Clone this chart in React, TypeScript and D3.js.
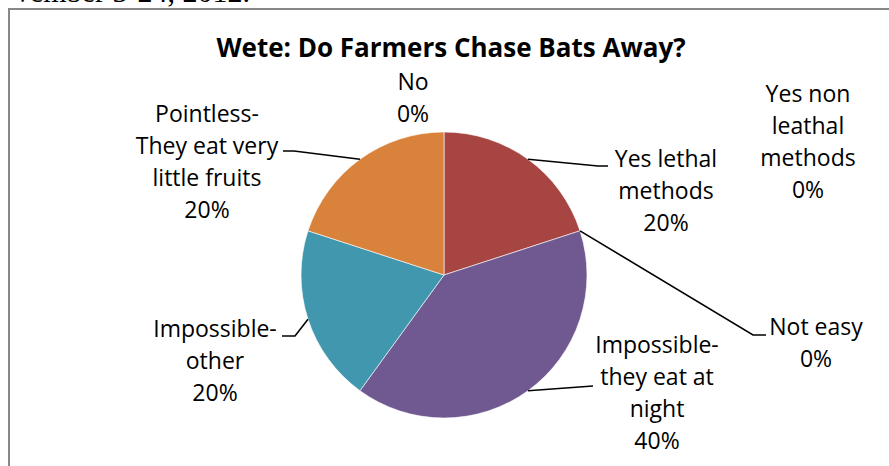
import React from "react";
import * as d3 from "d3";

// ---- data ----
const categories = [
  "Yes lethal methods",
  "Yes non leathal methods",
  "Not easy",
  "Impossible-they eat at night",
  "Impossible-other",
  "Pointless-They eat very little fruits",
  "No",
];
const values = [20, 0, 0, 40, 20, 20, 0];
const labelLines = [
  ["Yes lethal", "methods"],
  ["Yes non", "leathal", "methods"],
  ["Not easy"],
  ["Impossible-", "they eat at", "night"],
  ["Impossible-", "other"],
  ["Pointless-", "They eat very", "little fruits"],
  ["No"],
];
const sliceColors = ["#A64542", "#8AA84B", "#4F7CB0", "#705890", "#4097AE", "#D9823B", "#3F6FA6"];
const chartTitle = "Wete: Do Farmers Chase Bats Away?";
const pageText = "vember 3-24, 2012.";

// ---- layout (not data) ----
const W = 889;
const H = 466;
const cx = 444;
const cy = 275;
const R = 143;
const LH = 32;
// label layout: center x, first baseline, leader elbow points (null = no leader)
const labelLayout: { x: number; y: number; leader: [number, number][] | null }[] = [
  { x: 666, y: 167, leader: [[598, 166], [608, 166]] },
  { x: 808, y: 102, leader: null },
  { x: 816, y: 335, leader: [[753, 335], [766, 335]] },
  { x: 657, y: 353, leader: [[593, 386], [593, 386]] },
  { x: 215, y: 337, leader: [[295, 336], [282, 336]] },
  { x: 207, y: 122, leader: [[294, 151], [283, 151]] },
  { x: 413, y: 90, leader: null },
];

const FONT = "'Open Sans', 'Noto Sans', sans-serif";

export default function App() {
  const total = d3.sum(values);
  const pie = d3
    .pie<number>()
    .sort(null)
    .value((d) => d)
    .startAngle(0)
    .endAngle(2 * Math.PI);
  const arcs = pie(values);
  const arcGen = d3.arc<d3.PieArcDatum<number>>().innerRadius(0).outerRadius(R);
  const line = d3.line();

  return (
    <div style={{ position: "absolute", left: 0, top: 0 }}>
      <svg width={W} height={H} style={{ display: "block", background: "#fff" }}>
        <text
          x={250}
          y={2}
          textAnchor="end"
          fontFamily="'Liberation Serif', 'Times New Roman', serif"
          fontSize={30}
          fill="#000"
        >
          {pageText}
        </text>
        <path d={`M9,${H} L9,9 L${W},9`} fill="none" stroke="#878787" strokeWidth={2} />
        <text
          x={451}
          y={57}
          textAnchor="middle"
          fontFamily={FONT}
          fontWeight="bold"
          fontSize={26}
          fill="#000"
        >
          {chartTitle}
        </text>
        <g transform={`translate(${cx},${cy})`}>
          {arcs.map((a, i) =>
            a.value > 0 ? (
              <path key={i} d={arcGen(a) || ""} fill={sliceColors[i]} stroke="#fff" strokeWidth={0.6} />
            ) : null
          )}
        </g>
        {arcs.map((a, i) => {
          const lay = labelLayout[i];
          if (!lay.leader) return null;
          const mid = (a.startAngle + a.endAngle) / 2;
          const p: [number, number] = [cx + R * Math.sin(mid), cy - R * Math.cos(mid)];
          const pts: [number, number][] = [p, ...lay.leader];
          return <path key={i} d={line(pts) || ""} fill="none" stroke="#000" strokeWidth={1.6} />;
        })}
        {arcs.map((a, i) => {
          const lay = labelLayout[i];
          const lines = [...labelLines[i], `${Math.round((values[i] / total) * 100)}%`];
          return (
            <text key={i} textAnchor="middle" fontFamily={FONT} fontSize={23} fill="#000">
              {lines.map((t, j) => (
                <tspan key={j} x={lay.x} y={lay.y + j * LH}>
                  {t}
                </tspan>
              ))}
            </text>
          );
        })}
      </svg>
    </div>
  );
}
